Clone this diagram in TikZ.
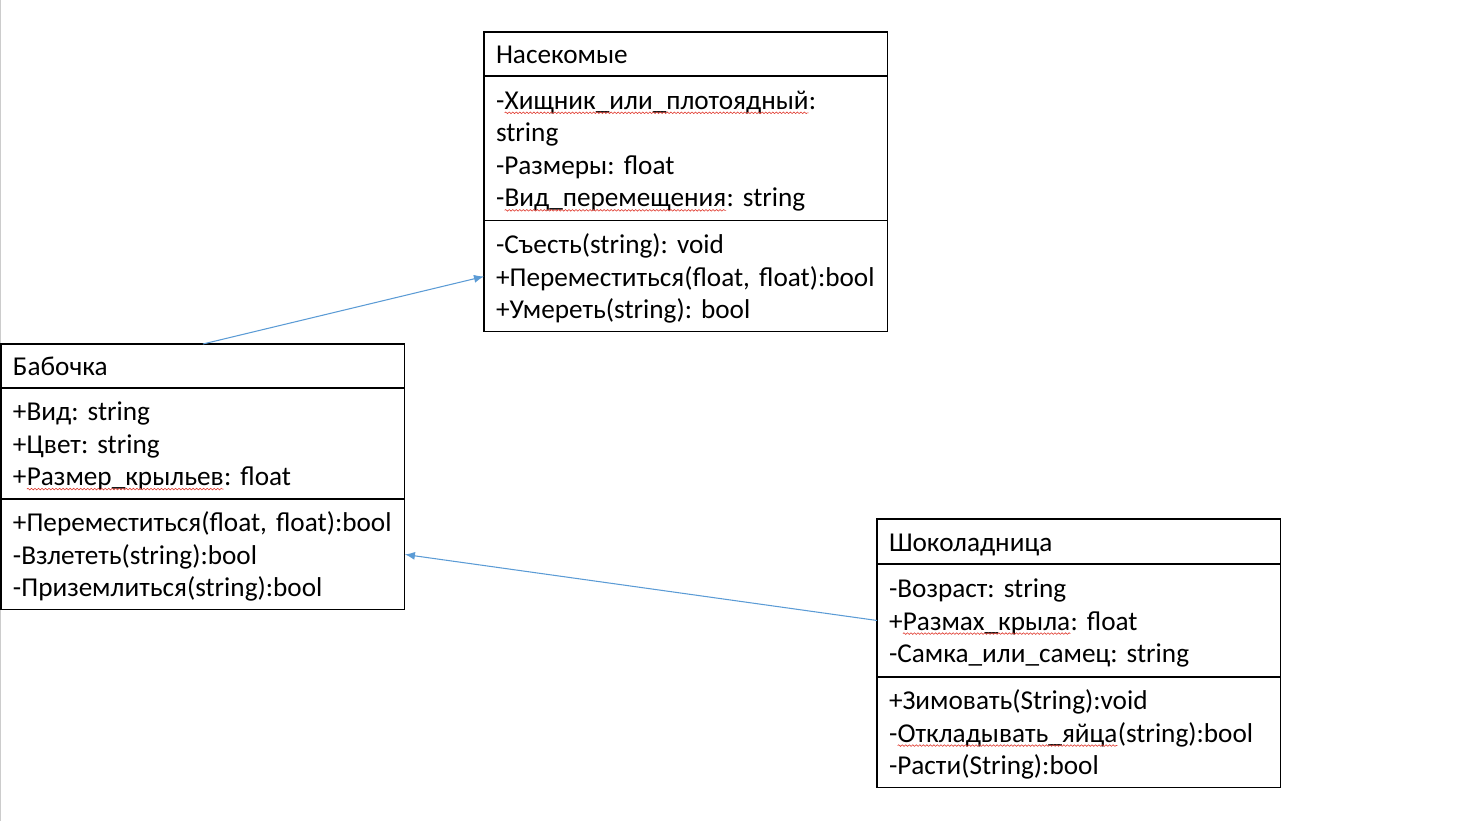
\documentclass[tikz,border=0pt]{standalone}
\usepackage{fontspec}
\setmainfont{Carlito}
\usetikzlibrary{arrows.meta,positioning,decorations.pathmorphing}
\definecolor{linkblue}{HTML}{5B9BD5}
\definecolor{spellred}{HTML}{E03C31}
\frenchspacing
% wavy spell-check underline under a word
\newcommand{\spellerr}[1]{\tikz[baseline=(sw.base)]{%
  \node[inner sep=0pt, outer sep=0pt, minimum width=0pt, minimum height=0pt, text width={}, align=none] (sw) {#1};
  \draw[spellred, line width=0.35pt, decorate, decoration={snake, segment length=2pt, amplitude=0.45pt}]
    ([yshift=-2pt]sw.base west) -- ([yshift=-2pt]sw.base east);}}

\begin{document}
\begin{tikzpicture}[
    x=0.02cm, y=-0.02cm,
    font=\fontsize{15.5}{18.5}\selectfont,
    classbox/.style={draw, line width=0.6pt, outer sep=0pt, inner xsep=0.24cm, inner ysep=0pt, text width=7.6cm, align=left,
      execute at begin node={\rule{0pt}{14.7pt}}, execute at end node={\rule[-3.8pt]{0pt}{3.8pt}}},
    classhead/.style={classbox, anchor=north west, minimum height=0.88cm},
    assoc/.style={draw=linkblue, line width=0.6pt, -{Latex[length=0.2cm,width=0.16cm]}}
]
  \useasboundingbox (0,0) rectangle (1467,821);
  \draw[gray!40, line width=0.6pt] (0.6,0) -- (0.6,821);

  % Insects
  \node[classhead] (nasH) at (484,32) {Насекомые};
  \node[classbox, below=0pt of nasH, minimum height=2.9cm] (nasA)
    {-\spellerr{Хищник\_или\_плотоядный}:\\string\\-Размеры: float\\-\spellerr{Вид\_перемещения}: string};
  \node[classbox, below=0pt of nasA, minimum height=2.22cm] (nasM)
    {-Съесть(string): void\\+Переместиться(float, float):bool\\+Умереть(string): bool};

  % Butterfly
  \node[classhead] (babH) at (1,344) {Бабочка};
  \node[classbox, below=0pt of babH, minimum height=2.22cm] (babA)
    {+Вид: string\\+Цвет: string\\+\spellerr{Размер\_крыльев}: float};
  \node[classbox, below=0pt of babA, minimum height=2.22cm] (babM)
    {+Переместиться(float, float):bool\\-Взлететь(string):bool\\-Приземлиться(string):bool};

  % Chocolate butterfly
  \node[classhead, minimum height=0.9cm] (shoH) at (877,519) {Шоколадница};
  \node[classbox, below=0pt of shoH, minimum height=2.26cm] (shoA)
    {-Возраст: string\\+\spellerr{Размах\_крыла}: float\\-Самка\_или\_самец: string};
  \node[classbox, below=0pt of shoA, minimum height=2.22cm] (shoM)
    {+Зимовать(String):void\\-\spellerr{Откладывать\_яйца}(string):bool\\-Расти(String):bool};
  \draw[line width=1.1pt] (shoH.south west) -- (shoH.south east);
  \draw[line width=1.1pt] (shoA.south west) -- (shoA.south east);

  \draw[assoc] (babH.north) -- (nasM.west);
  \draw[assoc] (shoA.west) -- (babM.east);
\end{tikzpicture}
\end{document}
